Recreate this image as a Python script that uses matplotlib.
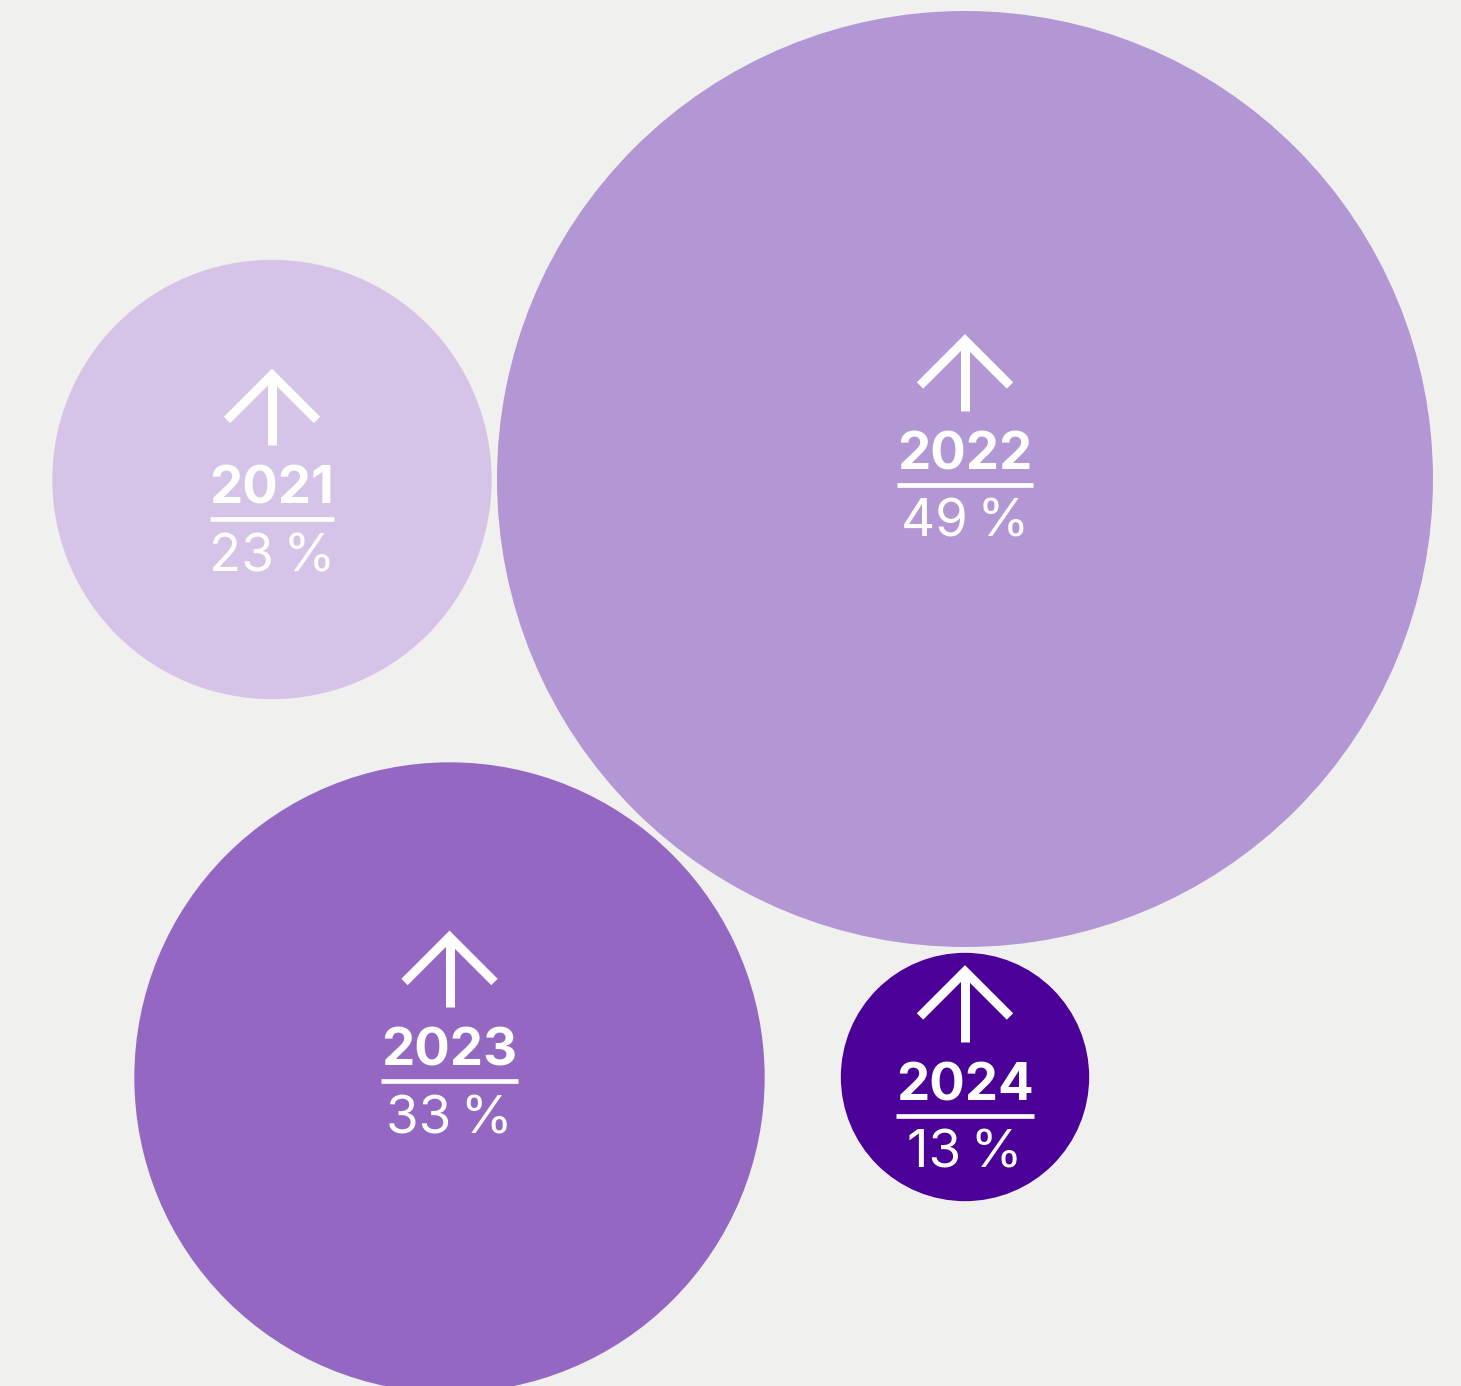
import matplotlib.pyplot as plt
from matplotlib.patches import Circle

# data
years = ['2021', '2022', '2023', '2024']
growth = [23, 49, 33, 13]          # percent, radius scales linearly with value
colours = ['#D5C4E7', '#B397D5', '#9468C2', '#4B0097']

# bubble layout (pixel space, y down)
cx = [272, 965, 449.5, 965]
cy = [479.5, 479, 1077.5, 1077]
label_y = [519, 484.5, 1081, 1115.5]   # y of the underline under each year
PX_PER_PCT = 468 / 49

W, H = 1461, 1386
BG = '#F0F0EE'

plt.rcParams['font.family'] = ['Inter', 'DejaVu Sans']

fig = plt.figure(figsize=(W / 100, H / 100), dpi=100, facecolor=BG)
ax = fig.add_axes([0, 0, 1, 1])
ax.set_xlim(0, W)
ax.set_ylim(H, 0)
ax.set_aspect('equal')
ax.axis('off')
ax.set_facecolor(BG)

renderer = fig.canvas.get_renderer()

for yr, val, col, x, y, ly in zip(years, growth, colours, cx, cy, label_y):
    ax.add_patch(Circle((x, y), val * PX_PER_PCT, facecolor=col, edgecolor='none'))

    # up arrow
    tip = ly - 144
    lw = 6.5
    ax.plot([x, x], [tip + 3, ly - 74], color='white', lw=lw, solid_capstyle='butt')
    ax.plot([x - 45, x, x + 45], [tip + 45, tip, tip + 45], color='white', lw=lw,
            solid_joinstyle='miter', solid_capstyle='butt')

    # year + underline + value
    t = ax.text(x, ly - 15, yr, color='white', fontsize=38, fontweight='bold',
                ha='center', va='baseline')
    bb = t.get_window_extent(renderer)
    half = bb.width / 2
    ax.plot([x - half, x + half], [ly, ly], color='white', lw=3.4, solid_capstyle='butt')
    ax.text(x, ly + 52, '{}\u2009%'.format(val), color='white', fontsize=38,
            ha='center', va='baseline')

fig.savefig('out.png', dpi=100, facecolor=BG)
